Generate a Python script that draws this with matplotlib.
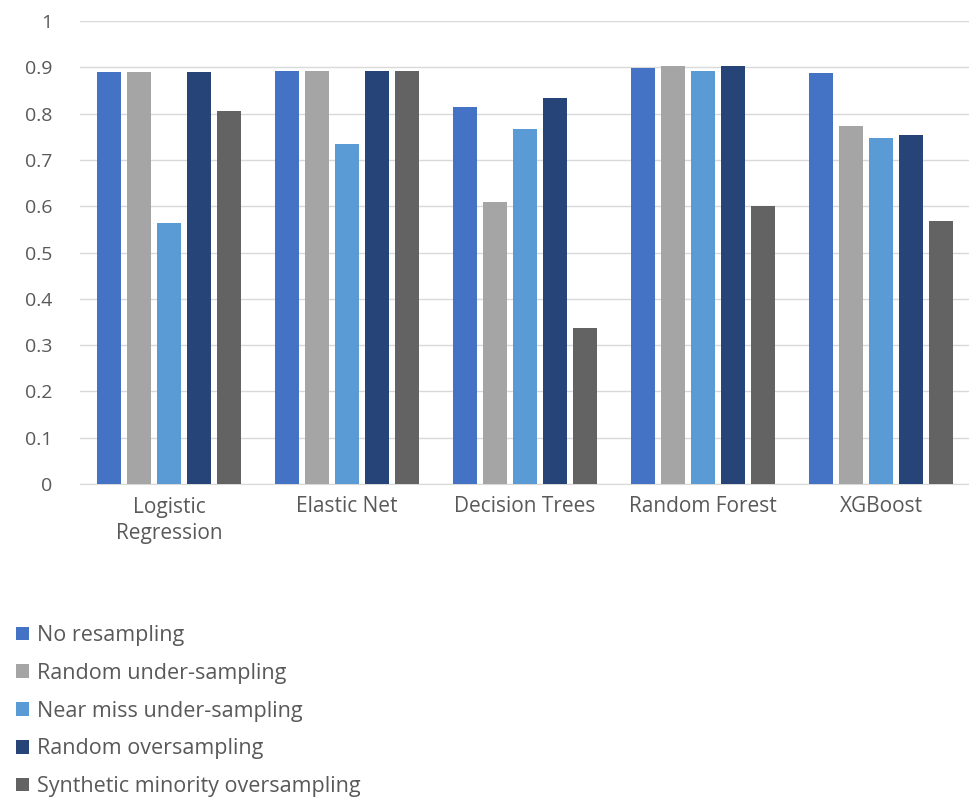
import numpy as np
import matplotlib.pyplot as plt

models = ['Logistic\nRegression', 'Elastic Net', 'Decision Trees',
          'Random Forest', 'XGBoost']
methods = ['No resampling', 'Random under-sampling',
           'Near miss under-sampling', 'Random oversampling',
           'Synthetic minority oversampling']

no_resampling = [0.890, 0.893, 0.815, 0.899, 0.887]
random_under = [0.890, 0.893, 0.608, 0.903, 0.773]
near_miss = [0.563, 0.734, 0.767, 0.892, 0.747]
random_over = [0.890, 0.893, 0.834, 0.903, 0.753]
smote = [0.806, 0.893, 0.336, 0.601, 0.569]

series = [no_resampling, random_under, near_miss, random_over, smote]
colors = ['#4472C4', '#A5A5A5', '#5B9BD5', '#264478', '#636363']
text_color = '#595959'

plt.rcParams['font.family'] = ['Open Sans', 'DejaVu Sans']

fig = plt.figure(figsize=(9.7, 7.99), dpi=100)
ax = fig.add_axes([80 / 970, (799 - 484) / 799, 890 / 970, 463 / 799])

x = np.arange(len(models))
step = 0.169
width = 0.132
for i, (vals, col, lab) in enumerate(zip(series, colors, methods)):
    ax.bar(x + (i - 2) * step, vals, width, color=col, label=lab, zorder=3)

ax.set_xlim(-0.5, len(models) - 0.5)
ax.set_ylim(0, 1)
ax.set_yticks(np.arange(0, 1.01, 0.1))
ax.set_yticklabels(['0'] + ['%.1f' % v for v in np.arange(0.1, 0.95, 0.1)] + ['1'])
ax.set_xticks(x)
ax.set_xticklabels(models, fontsize=15, linespacing=1.35)
ax.grid(axis='y', color='#D9D9D9', lw=1, zorder=0)
for s in ['top', 'right', 'left']:
    ax.spines[s].set_visible(False)
ax.spines['bottom'].set_color('#D9D9D9')
ax.tick_params(axis='both', length=0, colors=text_color)
ax.tick_params(axis='y', labelsize=14, pad=20)
ax.tick_params(axis='x', pad=9)

handles, labels = ax.get_legend_handles_labels()
fig.legend(handles, labels, loc='upper left', bbox_to_anchor=(-0.003, 0.242),
           frameon=False, fontsize=15.5, labelcolor=text_color,
           handlelength=0.6, handleheight=0.6, handletextpad=0.35,
           labelspacing=0.78)

fig.savefig('out.png', dpi=100)
